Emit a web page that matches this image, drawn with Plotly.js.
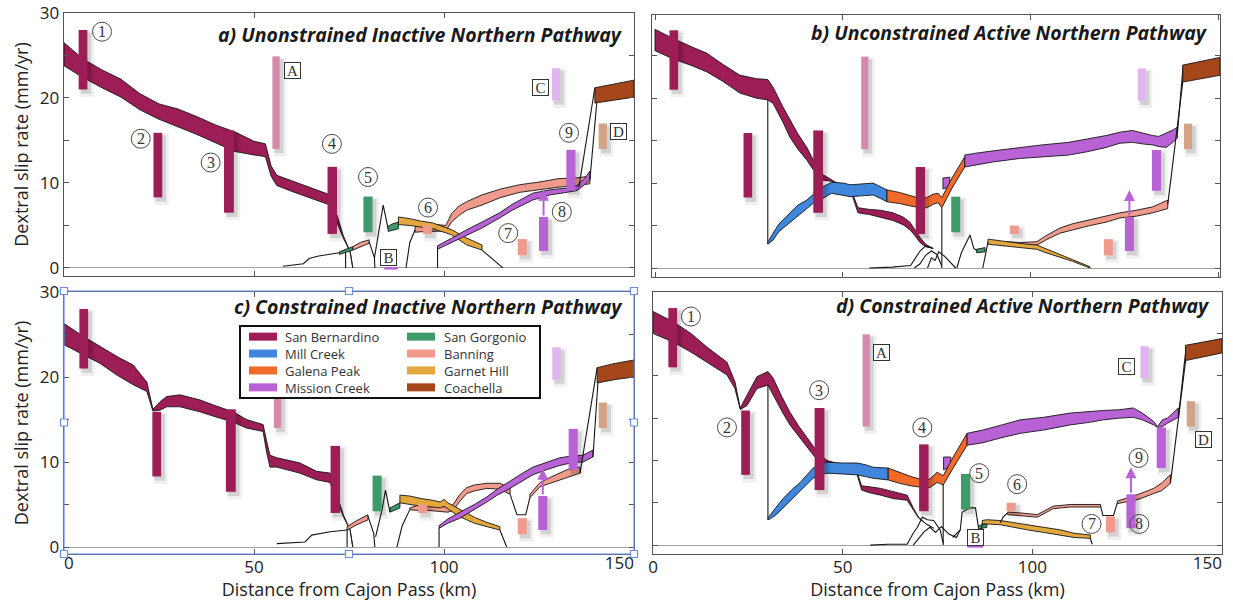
<!DOCTYPE html>
<html><head><meta charset="utf-8">
<script src="https://cdn.plot.ly/plotly-3.0.1.min.js"></script>
<style>html,body{margin:0;padding:0;background:#fff}#chart{width:1233px;height:601px}</style>
</head><body><div id="chart"></div>
<script>
// ---------------- fault colours & legend names ----------------
const faultKeys  = ['SB','MC','GP','MSC','SG','BAN','GH','CO'];
const faultNames = ['San Bernardino','Mill Creek','Galena Peak','Mission Creek','San Gorgonio','Banning','Garnet Hill','Coachella'];
const faultColors = {SB:'#9d1d56', MC:'#3f86dc', GP:'#f06a2a', MSC:'#b862d6', SG:'#3f9a69', BAN:'#f09a8b', GH:'#e2a83e', CO:'#a5461b', A:'#d68aab', C:'#e1b6ee', D:'#d4a284'};

// ---------------- geologic observations (bars) ----------------
const obsLabels = ['1','2','3','A','4','5','6','7','8','9','C','D'];
const obsFault  = ['SB','SB','SB','A','SB','SG','BAN','BAN','MSC','MSC','C','D'];
const obsXUnc   = [5.0, 24.7, 43.4, 55.8, 70.6, 80.0, 95.6, 120.6, 126.2, 133.4, 129.5, 141.8];
const obsXCon   = [5.2, 24.4, 43.9, 56.2, 71.4, 82.4, 94.4, 120.6, 126.0, 134.0, 129.6, 141.8];
const obsLo     = [21.0, 8.3, 6.5, 14.0, 4.0, 4.2, 4.0, 1.5, 2.0, 9.1, 19.7, 14.0];
const obsHi     = [28.0, 15.9, 16.2, 24.9, 11.9, 8.4, 5.0, 3.4, 6.0, 13.9, 23.5, 17.0];
const obsW      = [2.3, 2.3, 2.6, 1.9, 2.5, 2.4, 2.4, 2.4, 2.4, 2.4, 2.2, 2.2];
const obs8ArrowTo = 9.2;

// ---------------- labels (circled numbers / boxed letters) ----------------
const circNums = ['1','2','3','4','5','6','7','8','9'];
const circAx = [10.0, 20.2, 38.6, 70.5, 80.0, 95.8, 116.9, 131.0, 132.9];
const circAy = [27.8, 15.2, 12.4, 14.6, 10.7, 7.1, 4.1, 6.6, 15.9];
const circDx = [10.0, 19.5, 43.8, 71.0, 86.0, 96.0, 115.6, 128.2, 128.0];
const circDy = [27.0, 13.9, 18.3, 13.9, 8.5, 7.2, 2.5, 2.5, 10.3];
const letters = ['A','B','C','D'];
const letAx = [60.0, 85.3, 125.3, 145.8];
const letAy = [23.2, 1.2, 21.2, 16.0];
const letDx = [60.2, 85.0, 124.8, 145.1];
const letDy = [22.7, 0.9, 21.1, 12.5];

// ---------------- panel a: Unconstrained Inactive ----------------
const a_SB_x  = [0, 5, 10, 15, 20, 25, 30, 35, 40, 45, 50, 53, 54.5, 56, 60, 65, 70, 72, 73.5, 75.3, 76];
const a_SB_hi = [26.5, 24.6, 23.3, 22.2, 20.5, 19.3, 18.7, 17.8, 16.8, 16.0, 14.9, 14.6, 12.0, 10.9, 10.2, 9.4, 8.6, 6.0, 3.8, 1.9, 0.0];
const a_SB_lo = [23.8, 22.4, 21.2, 20.1, 18.6, 17.5, 16.6, 15.7, 14.7, 13.7, 13.3, 13.1, 10.8, 9.7, 9.0, 8.2, 7.4, 5.1, 3.5, 1.9, 0.0];
const a_L1_x = [57.6, 63, 64.5, 67, 70, 74.1], a_L1_y = [0.2, 0.5, 1.1, 1.4, 1.6, 1.9];
const a_V1_x = [74.1, 74.1], a_V1_y = [1.9, 0];
const a_SG0_x = [72.5, 74.1, 76], a_SG0_lo = [1.6, 1.8, 2.1], a_SG0_hi = [1.9, 2.2, 2.5];
const a_BAN0_x = [76, 78, 80.3], a_BAN0_lo = [2.1, 2.5, 2.9], a_BAN0_hi = [2.5, 3.0, 3.3];
const a_L2_x = [80.3, 81.7, 81.8], a_L2_y = [3.1, 1.2, 0];
const a_SGl_x = [81.7, 84, 85.3], a_SGl_y = [1.2, 7.4, 4.6];
const a_SG_x = [85.3, 86.5, 88], a_SG_lo = [4.3, 4.4, 4.6], a_SG_hi = [4.9, 5.2, 5.4];
const a_BANs_x = [90, 91, 92.4], a_BANs_y = [0, 3.0, 4.5];
const a_BAN_x  = [92.4, 95, 98, 100.5, 102, 104, 106, 110, 115, 120, 125, 130, 135, 138.4];
const a_BAN_hi = [4.9, 5.1, 5.1, 5.0, 6.4, 7.3, 7.8, 8.6, 9.3, 9.8, 10.1, 10.5, 10.6, 10.8];
const a_BAN_lo = [4.2, 4.3, 4.3, 4.4, 5.4, 6.2, 6.8, 7.4, 8.3, 8.9, 9.2, 9.5, 9.7, 9.9];
const a_GH_x  = [88, 91, 94, 97, 100, 102, 106, 110];
const a_GH_hi = [6.0, 5.8, 5.5, 5.3, 4.8, 4.5, 3.5, 2.7];
const a_GH_lo = [5.1, 5.0, 4.8, 4.6, 4.2, 3.9, 2.7, 2.1];
const a_GHt_x = [110, 113, 115.5], a_GHt_y = [2.1, 1.0, 0];
const a_MSs_x = [98.3, 98.3], a_MSs_y = [0, 2.3];
const a_MSC_x  = [98.3, 102, 106, 110, 114.7, 118, 123.4, 128, 132.4, 135, 137, 138.4];
const a_MSC_hi = [2.6, 3.5, 4.5, 5.4, 6.5, 7.5, 8.8, 9.2, 9.4, 9.7, 10.5, 11.4];
const a_MSC_lo = [2.2, 3.0, 3.9, 4.7, 5.9, 6.8, 8.0, 8.6, 8.9, 9.1, 9.8, 10.4];
const a_S1_x = [135.5, 139.7], a_S1_y = [9.5, 21.2];
const a_S2_x = [138.4, 140.2], a_S2_y = [10.4, 19.4];
const a_CO_x = [139.7, 145, 150], a_CO_hi = [21.2, 21.7, 22.1], a_CO_lo = [19.4, 19.8, 20.1];
const a_Bu_x = [84.3, 87.8], a_Bu_y = [-0.05, -0.05];

// ---------------- panel b: Unconstrained Active ----------------
const b_SB_x  = [0, 5, 10, 13.8, 18, 22.6, 27, 30, 31.4, 34, 35.9, 38, 40.4, 42, 43.9, 47, 50, 52.5, 54, 57, 60, 63.3, 66, 67.8, 69, 70.5, 72, 74];
const b_SB_hi = [28.1, 27.0, 26.0, 25.3, 24.0, 22.7, 22.3, 22.2, 21.3, 19.0, 17.4, 15.8, 14.2, 12.8, 11.2, 10.4, 9.6, 8.8, 7.1, 6.9, 6.8, 6.5, 6.0, 5.4, 4.6, 3.6, 2.8, 2.3];
const b_SB_lo = [25.6, 24.6, 23.8, 23.1, 22.0, 20.6, 20.0, 19.8, 19.4, 17.2, 15.4, 14.0, 12.7, 11.6, 10.4, 10.2, 9.2, 8.5, 6.5, 6.3, 6.0, 5.6, 5.1, 4.5, 3.9, 3.0, 2.5, 2.3];
const b_V1_x = [30, 30], b_V1_y = [19.8, 2.9];
const b_MC_x  = [30, 31.4, 33, 35.9, 38, 40.4, 42, 43.9, 47, 50, 52, 55, 58, 60, 61.7];
const b_MC_hi = [3.0, 4.1, 5.2, 6.5, 7.4, 8.0, 8.7, 9.4, 10.1, 10.0, 9.8, 9.9, 10.0, 9.6, 9.2];
const b_MC_lo = [2.8, 3.3, 4.3, 5.4, 6.2, 7.0, 7.6, 8.0, 8.8, 8.6, 8.4, 8.5, 8.6, 8.2, 7.8];
const b_MS0_x = [76.6, 78.4], b_MS0_hi = [10.6, 10.7], b_MS0_lo = [9.3, 9.6];
const b_GP_x  = [61.7, 65, 68, 70.5, 72.3, 74, 75.3, 76.3, 79, 82.4];
const b_GP_hi = [9.2, 8.9, 8.5, 8.2, 8.3, 8.7, 8.8, 8.3, 10.6, 13.1];
const b_GP_lo = [7.8, 7.6, 7.3, 7.1, 7.1, 7.5, 7.7, 7.1, 9.4, 11.9];
const b_MSC_x  = [82.4, 85, 90, 97, 103, 110, 115, 120, 123.7, 127, 130, 132.4, 134, 136, 138, 139];
const b_MSC_hi = [13.3, 13.5, 13.8, 14.2, 14.5, 14.8, 15.2, 15.6, 16.0, 16.2, 15.9, 15.6, 15.5, 15.9, 16.3, 16.6];
const b_MSC_lo = [11.9, 12.1, 12.5, 12.9, 13.1, 13.3, 13.7, 14.2, 14.7, 14.8, 14.6, 14.5, 14.3, 14.2, 14.9, 15.4];
const b_CO_x = [140.4, 145, 150.3], b_CO_hi = [23.9, 24.3, 24.8], b_CO_lo = [21.9, 22.3, 22.7];
const b_S1_x = [136.4, 140.4], b_S1_y = [7.5, 21.9];
const b_S2_x = [139, 140.5], b_S2_y = [16.0, 23.9];
const b_GHs_x = [87.2, 88.6], b_GHs_y = [0, 3.1];
const b_GH_x  = [88.6, 91, 93.6, 97, 101.6, 104, 107.7, 111, 115.7];
const b_GH_hi = [3.4, 3.3, 3.1, 2.9, 2.7, 2.2, 1.6, 1.0, 0.15];
const b_GH_lo = [2.8, 2.7, 2.6, 2.4, 2.2, 1.8, 1.3, 0.8, 0.0];
const b_BAN_x  = [93.6, 97, 101.6, 104, 107.7, 111, 115.7, 120, 123.7, 128, 132.4, 136.4];
const b_BAN_hi = [3.1, 3.0, 3.1, 3.8, 4.7, 5.2, 5.7, 6.1, 6.5, 6.8, 7.2, 8.0];
const b_BAN_lo = [2.8, 2.7, 2.7, 3.3, 4.1, 4.5, 5.0, 5.4, 5.9, 6.1, 6.5, 7.0];
const b_T1_x = [57, 63, 68, 69, 70.5, 72, 74], b_T1_y = [0, 0.1, 0.3, 1.0, 2.0, 2.6, 2.3];
const b_T2_x = [69, 70.5, 72, 73.5, 75, 76.3], b_T2_y = [0, 0.5, 1.5, 2.0, 1.6, 0.2];
const b_T3_x = [72.5, 73.5, 74.5, 75.5, 77, 78.5, 80], b_T3_y = [0, 1.2, 0.9, 1.9, 1.4, 0.7, 0];
const b_V2_x = [76.3, 76.3], b_V2_y = [7.1, 0];
const b_SGl_x = [80.3, 81.5, 83.8, 84.8, 85.5], b_SGl_y = [0, 1.8, 3.9, 2.3, 2.1];
const b_SG_x = [85.5, 87.8], b_SG_hi = [2.2, 2.4], b_SG_lo = [1.8, 1.9];

// ---------------- panel c: Constrained Inactive ----------------
const c_SB_x  = [0, 5, 9.5, 14, 18.2, 21.8, 23.4, 25.3, 27, 30.5, 35.8, 40, 44.5, 48, 52.4, 53.3, 54.2, 56, 62, 66.5, 70, 72, 73.5, 75.3, 76];
const c_SB_hi = [26.3, 24.8, 23.6, 22.4, 21.4, 19.4, 16.2, 17.1, 17.7, 17.9, 17.3, 16.6, 15.9, 15.0, 14.4, 12.5, 10.8, 10.5, 9.9, 8.9, 8.7, 6.0, 3.8, 2.0, 0];
const c_SB_lo = [23.8, 22.6, 21.6, 20.2, 19.1, 18.3, 16.0, 16.1, 16.5, 16.5, 15.9, 15.3, 14.7, 14.0, 13.6, 11.2, 9.4, 9.4, 8.7, 7.9, 7.6, 5.3, 3.6, 2.0, 0];
const c_L1_x = [56, 63.4, 65.2, 67.4, 70, 74.5], c_L1_y = [0.4, 0.6, 1.4, 1.6, 1.8, 2.0];
const c_V1_x = [74.5, 74.5], c_V1_y = [2.0, 0];
const c_BAN0_x = [74.5, 77, 80], c_BAN0_lo = [2.0, 2.6, 3.2], c_BAN0_hi = [2.4, 3.1, 3.8];
const c_L2_x = [80, 81.5, 81.8], c_L2_y = [3.6, 1.6, 0];
const c_SGl_x = [82, 83.7, 84.6, 85.8], c_SGl_y = [1.2, 4.4, 6.7, 4.1];
const c_SG_x = [85.8, 88.4], c_SG_lo = [4.1, 4.6], c_SG_hi = [4.6, 5.2];
const c_GH_x  = [88.4, 91, 94, 97, 99, 100, 101, 102.4, 104, 106, 108, 111.3, 114.7];
const c_GH_hi = [6.1, 6.0, 5.7, 5.5, 5.3, 5.6, 5.2, 4.9, 4.5, 4.0, 3.5, 2.9, 2.4];
const c_GH_lo = [5.2, 5.0, 4.8, 4.7, 4.6, 4.8, 4.5, 4.1, 3.6, 3.2, 2.8, 2.4, 2.0];
const c_GHt_x = [114.7, 116.5], c_GHt_y = [2.0, 0];
const c_BANs_x = [87.6, 89, 91], c_BANs_y = [0, 2.5, 4.4];
const c_BAN_x  = [91, 93, 96, 99, 101, 102.4, 104.2, 106, 108, 111.3, 114.7, 117.4];
const c_BAN_hi = [4.6, 4.9, 4.9, 4.8, 4.7, 5.0, 6.2, 7.0, 7.3, 7.5, 7.5, 6.9];
const c_BAN_lo = [4.4, 4.3, 4.3, 4.2, 4.1, 4.3, 5.4, 6.3, 6.6, 6.9, 6.8, 6.2];
const c_BANd_x = [117.4, 119.2, 121.5, 122.6], c_BANd_y = [6.2, 3.8, 3.8, 5.8];
const c_BAN2_x  = [122.6, 125.3, 128, 132.4, 135.8];
const c_BAN2_hi = [6.2, 7.6, 8.2, 9.1, 9.4];
const c_BAN2_lo = [5.8, 7.1, 7.5, 8.2, 8.7];
const c_MSs_x = [98.7, 98.7], c_MSs_y = [0, 2.2];
const c_MSC_x  = [98.7, 101, 104.2, 108, 111.3, 114, 116.6, 120, 123.4, 127, 130.5, 133.5, 136.6, 139.2];
const c_MSC_hi = [2.5, 3.3, 4.1, 5.0, 5.9, 6.8, 7.5, 8.5, 9.4, 10.0, 10.5, 10.7, 10.8, 11.4];
const c_MSC_lo = [2.2, 2.8, 3.4, 4.4, 5.3, 6.1, 6.7, 7.6, 8.5, 9.1, 9.6, 9.9, 10.0, 10.6];
const c_S1_x = [135.8, 140.3], c_S1_y = [8.7, 21.1];
const c_S2_x = [139.2, 140.5], c_S2_y = [10.6, 19.3];
const c_CO_x = [140.3, 145, 150], c_CO_hi = [21.1, 21.6, 22.0], c_CO_lo = [19.3, 19.7, 20.0];

// ---------------- panel d: Constrained Active ----------------
const d_SB_x  = [0, 5.3, 10, 14.2, 19.5, 21.6, 23, 24.8, 27.4, 30.3, 31.7, 34, 36.1, 38.5, 40.6, 42.5, 44, 45.9, 50, 53.5, 55, 57, 60, 63.3, 67, 68.6, 70, 72, 74];
const d_SB_hi = [27.6, 26.4, 25.0, 23.4, 21.6, 19.3, 16.2, 17.7, 19.9, 20.5, 19.7, 17.5, 15.7, 14.0, 12.6, 11.5, 10.6, 10.0, 9.5, 9.0, 7.0, 6.9, 6.7, 6.3, 5.9, 4.4, 3.3, 2.5, 2.0];
const d_SB_lo = [25.0, 24.0, 22.8, 21.6, 20.1, 18.5, 16.0, 16.5, 18.5, 18.9, 17.7, 15.8, 14.2, 12.8, 11.5, 10.5, 9.8, 9.6, 9.2, 8.8, 6.5, 6.2, 5.9, 5.5, 5.3, 4.2, 3.2, 2.5, 2.0];
const d_V1_x = [30.3, 30.3], d_V1_y = [18.9, 3.0];
const d_MC_x  = [30.3, 30.9, 32.5, 34.3, 36.5, 38.8, 40.5, 42.2, 44, 45.9, 50, 53.8, 56, 58, 62];
const d_MC_hi = [3.2, 3.6, 4.5, 5.5, 6.5, 7.4, 8.3, 9.1, 9.6, 9.8, 9.7, 9.7, 9.5, 9.2, 9.1];
const d_MC_lo = [3.0, 3.1, 3.6, 4.4, 5.4, 6.5, 7.2, 7.9, 8.3, 8.5, 8.4, 8.3, 8.1, 7.9, 7.7];
const d_MS0_x = [76.6, 78.5], d_MS0_hi = [10.4, 10.4], d_MS0_lo = [8.9, 9.3];
const d_GP_x  = [62, 65, 68, 71.2, 73, 74.9, 75.5, 76.5, 79, 82.8];
const d_GP_hi = [9.1, 8.6, 8.1, 7.7, 7.8, 8.6, 8.4, 8.2, 10.3, 13.2];
const d_GP_lo = [7.7, 7.3, 7.0, 6.8, 6.8, 7.4, 7.3, 7.1, 9.0, 11.8];
const d_MSC_x  = [82.8, 87, 92, 96.8, 103, 110, 115, 118.7, 123, 126.6, 129, 132, 133, 134.3, 135.6, 138.5];
const d_MSC_hi = [13.2, 13.6, 14.2, 14.8, 15.1, 15.6, 15.8, 15.9, 16.0, 16.2, 15.6, 14.6, 14.0, 14.8, 15.0, 16.2];
const d_MSC_lo = [11.8, 12.1, 12.7, 13.2, 13.6, 14.2, 14.5, 14.8, 15.0, 15.1, 14.8, 14.2, 13.9, 14.0, 14.4, 15.1];
const d_CO_x = [140.4, 145, 150], d_CO_hi = [23.6, 24.0, 24.4], d_CO_lo = [21.8, 22.2, 22.7];
const d_S1_x = [136.4, 140.4], d_S1_y = [7.3, 21.8];
const d_S2_x = [138.5, 140.6], d_S2_y = [15.1, 23.6];
const d_BANs_x = [91.5, 92.3, 93.5], d_BANs_y = [2.6, 3.3, 3.8];
const d_BAN_x  = [93.5, 97, 101.3, 103, 105.5, 110, 115, 118];
const d_BAN_hi = [3.9, 3.8, 3.6, 4.0, 4.6, 4.8, 4.8, 4.8];
const d_BAN_lo = [3.6, 3.5, 3.3, 3.7, 4.3, 4.5, 4.5, 4.5];
const d_BANd_x = [118, 118.6, 121.4, 122.4], d_BANd_y = [4.6, 3.5, 3.5, 5.0];
const d_BAN2_x  = [122.4, 125, 128, 132, 134, 136.4];
const d_BAN2_hi = [5.2, 5.6, 6.0, 6.7, 7.3, 8.3];
const d_BAN2_lo = [4.9, 5.1, 5.4, 6.1, 6.4, 7.3];
const d_GHs_x = [86.2, 86.8], d_GHs_y = [0, 2.6];
const d_GH_x  = [86.8, 88, 91.6, 95, 98.7, 103, 107.4, 111, 115.3];
const d_GH_hi = [2.9, 3.0, 2.9, 2.7, 2.4, 2.1, 1.8, 1.4, 1.2];
const d_GH_lo = [2.5, 2.5, 2.4, 2.1, 1.8, 1.5, 1.2, 0.9, 0.8];
const d_GHt_x = [115.3, 115.8], d_GHt_y = [0.8, 0.1];
const d_SGl_x = [79, 81, 81.5, 83.6, 85, 85.8], d_SGl_y = [0.9, 1.8, 3.9, 4.4, 4.4, 2.1];
const d_SG_x = [85.8, 88], d_SG_lo = [1.9, 2.1], d_SG_hi = [2.3, 2.5];
const d_T1_x = [57.3, 62, 67, 68.6, 69.7, 71, 72.3, 74, 75.7, 76.5], d_T1_y = [0.0, 0.1, 0.1, 1.4, 2.1, 3.3, 3.0, 2.9, 1.8, 0.2];
const d_T2_x = [68.6, 70, 71.5, 73, 74.5, 76, 78, 80, 81], d_T2_y = [0, 0.8, 1.6, 2.1, 1.5, 2.2, 1.3, 0.9, 1.8];
const d_V2_x = [76.5, 76.5], d_V2_y = [7.1, 0];
const d_Bu_x = [82.8, 87], d_Bu_y = [-0.15, -0.15];

// ---------------- panel titles & axis text ----------------
const panelTitles = ['a) Unonstrained Inactive Northern Pathway','b) Unconstrained Active Northern Pathway','c) Constrained Inactive Northern Pathway','d) Constrained Active Northern Pathway'];
const xTicks = [0, 50, 100, 150];
const yTicks = [0, 5, 10, 15, 20, 25, 30];
const yTickText = ['0', '', '10', '', '20', '', '30'];

// =================== build ===================
const W = 1233, H = 601;
const traces = [], shapes = [], annos = [];
const sfx = n => (n === 1 ? '' : String(n));

function band(p, x, lo, hi, key){
  const xs = x.concat(x.slice().reverse(), [x[0]]);
  const ys = lo.concat(hi.slice().reverse(), [lo[0]]);
  traces.push({type:'scatter', mode:'lines', x:xs, y:ys, xaxis:'x'+sfx(p), yaxis:'y'+sfx(p),
    fill:'toself', fillcolor:faultColors[key], line:{color:'#151515', width:0.9}, hoverinfo:'skip', showlegend:false});
}
function line(p, x, y, color, w){
  traces.push({type:'scatter', mode:'lines', x:x, y:y, xaxis:'x'+sfx(p), yaxis:'y'+sfx(p),
    line:{color:color||'#151515', width:w||1.1}, hoverinfo:'skip', showlegend:false});
}
function rect(p, x0, x1, y0, y1, color){
  traces.push({type:'scatter', mode:'lines', x:[x0,x1,x1,x0,x0], y:[y0,y0,y1,y1,y0], xaxis:'x'+sfx(p), yaxis:'y'+sfx(p),
    fill:'toself', fillcolor:color, line:{width:0, color:color}, hoverinfo:'skip', showlegend:false});
}
function observations(p, xs){
  for (let i = 0; i < xs.length; i++){
    const h = obsW[i]/2, xc = xs[i];
    rect(p, xc-h+0.3, xc+h+1.7, obsLo[i]-0.9, obsHi[i]-0.1, 'rgba(0,0,0,0.06)');
    rect(p, xc-h+0.6, xc+h+1.0, obsLo[i]-0.5, obsHi[i]-0.3, 'rgba(0,0,0,0.12)');
  }
  for (let i = 0; i < xs.length; i++){
    const h = obsW[i]/2, xc = xs[i];
    rect(p, xc-h, xc+h, obsLo[i], obsHi[i], faultColors[obsFault[i]]);
  }
  const i8 = obsLabels.indexOf('8');
  annos.push({xref:'x'+sfx(p), yref:'y'+sfx(p), axref:'x'+sfx(p), ayref:'y'+sfx(p),
    x:xs[i8], y:obs8ArrowTo, ax:xs[i8], ay:obsHi[i8], text:'', showarrow:true,
    arrowhead:2, arrowsize:1.1, arrowwidth:2, arrowcolor:faultColors.MSC});
}
function circles(p, xs, ys){
  for (let i = 0; i < circNums.length; i++){
    shapes.push({type:'circle', xref:'x'+sfx(p), yref:'y'+sfx(p), xsizemode:'pixel', ysizemode:'pixel',
      xanchor:xs[i], yanchor:ys[i], x0:-9.5, x1:9.5, y0:-9.5, y1:9.5, line:{color:'#4a4a4a', width:1}, layer:'above'});
    annos.push({xref:'x'+sfx(p), yref:'y'+sfx(p), x:xs[i], y:ys[i], text:circNums[i], showarrow:false,
      font:{family:'Liberation Serif, serif', size:16, color:'#333'}});
  }
}
function boxes(p, xs, ys){
  for (let i = 0; i < letters.length; i++){
    annos.push({xref:'x'+sfx(p), yref:'y'+sfx(p), x:xs[i], y:ys[i], text:letters[i], showarrow:false,
      font:{family:'Liberation Serif, serif', size:15, color:'#333'}, bordercolor:'#333', borderwidth:1,
      borderpad:0, bgcolor:'#fff', width:15, height:15});
  }
}

// ---- panel a ----
band(1, a_SB_x, a_SB_lo, a_SB_hi, 'SB');
line(1, a_L1_x, a_L1_y); line(1, a_V1_x, a_V1_y);
band(1, a_SG0_x, a_SG0_lo, a_SG0_hi, 'SG');
band(1, a_BAN0_x, a_BAN0_lo, a_BAN0_hi, 'BAN');
line(1, a_L2_x, a_L2_y); line(1, a_SGl_x, a_SGl_y);
band(1, a_SG_x, a_SG_lo, a_SG_hi, 'SG');
line(1, a_BANs_x, a_BANs_y);
band(1, a_BAN_x, a_BAN_lo, a_BAN_hi, 'BAN');
band(1, a_GH_x, a_GH_lo, a_GH_hi, 'GH');
line(1, a_GHt_x, a_GHt_y);
line(1, a_MSs_x, a_MSs_y);
band(1, a_MSC_x, a_MSC_lo, a_MSC_hi, 'MSC');
line(1, a_S1_x, a_S1_y); line(1, a_S2_x, a_S2_y);
band(1, a_CO_x, a_CO_lo, a_CO_hi, 'CO');
line(1, a_Bu_x, a_Bu_y, faultColors.MSC, 2.5);
observations(1, obsXUnc);
circles(1, circAx, circAy); boxes(1, letAx, letAy);

// ---- panel b ----
band(2, b_SB_x, b_SB_lo, b_SB_hi, 'SB');
line(2, b_V1_x, b_V1_y);
band(2, b_MC_x, b_MC_lo, b_MC_hi, 'MC');
line(2, b_T1_x, b_T1_y); line(2, b_T2_x, b_T2_y); line(2, b_T3_x, b_T3_y); line(2, b_V2_x, b_V2_y);
band(2, b_MS0_x, b_MS0_lo, b_MS0_hi, 'MSC');
band(2, b_GP_x, b_GP_lo, b_GP_hi, 'GP');
band(2, b_MSC_x, b_MSC_lo, b_MSC_hi, 'MSC');
line(2, b_SGl_x, b_SGl_y);
band(2, b_SG_x, b_SG_lo, b_SG_hi, 'SG');
line(2, b_GHs_x, b_GHs_y);
band(2, b_BAN_x, b_BAN_lo, b_BAN_hi, 'BAN');
band(2, b_GH_x, b_GH_lo, b_GH_hi, 'GH');
line(2, b_S1_x, b_S1_y); line(2, b_S2_x, b_S2_y);
band(2, b_CO_x, b_CO_lo, b_CO_hi, 'CO');
observations(2, obsXUnc);

// ---- panel c ----
band(3, c_SB_x, c_SB_lo, c_SB_hi, 'SB');
line(3, c_L1_x, c_L1_y); line(3, c_V1_x, c_V1_y);
band(3, c_BAN0_x, c_BAN0_lo, c_BAN0_hi, 'BAN');
line(3, c_L2_x, c_L2_y); line(3, c_SGl_x, c_SGl_y);
band(3, c_SG_x, c_SG_lo, c_SG_hi, 'SG');
line(3, c_BANs_x, c_BANs_y);
band(3, c_BAN_x, c_BAN_lo, c_BAN_hi, 'BAN');
band(3, c_GH_x, c_GH_lo, c_GH_hi, 'GH');
line(3, c_GHt_x, c_GHt_y);
line(3, c_MSs_x, c_MSs_y);
band(3, c_MSC_x, c_MSC_lo, c_MSC_hi, 'MSC');
line(3, c_BANd_x, c_BANd_y);
band(3, c_BAN2_x, c_BAN2_lo, c_BAN2_hi, 'BAN');
line(3, c_S1_x, c_S1_y); line(3, c_S2_x, c_S2_y);
band(3, c_CO_x, c_CO_lo, c_CO_hi, 'CO');
observations(3, obsXCon);

// ---- panel d ----
band(4, d_SB_x, d_SB_lo, d_SB_hi, 'SB');
line(4, d_V1_x, d_V1_y);
band(4, d_MC_x, d_MC_lo, d_MC_hi, 'MC');
line(4, d_T1_x, d_T1_y); line(4, d_T2_x, d_T2_y); line(4, d_V2_x, d_V2_y);
band(4, d_MS0_x, d_MS0_lo, d_MS0_hi, 'MSC');
band(4, d_GP_x, d_GP_lo, d_GP_hi, 'GP');
band(4, d_MSC_x, d_MSC_lo, d_MSC_hi, 'MSC');
line(4, d_SGl_x, d_SGl_y);
band(4, d_SG_x, d_SG_lo, d_SG_hi, 'SG');
line(4, d_GHs_x, d_GHs_y);
band(4, d_GH_x, d_GH_lo, d_GH_hi, 'GH');
line(4, d_GHt_x, d_GHt_y);
line(4, d_BANs_x, d_BANs_y);
band(4, d_BAN_x, d_BAN_lo, d_BAN_hi, 'BAN');
line(4, d_BANd_x, d_BANd_y);
band(4, d_BAN2_x, d_BAN2_lo, d_BAN2_hi, 'BAN');
line(4, d_S1_x, d_S1_y); line(4, d_S2_x, d_S2_y);
band(4, d_CO_x, d_CO_lo, d_CO_hi, 'CO');
line(4, d_Bu_x, d_Bu_y, faultColors.MSC, 2.5);
observations(4, obsXCon);
circles(4, circDx, circDy); boxes(4, letDx, letDy);

// empty traces so the edge-label overlay axes exist
[['x5','y3'], ['x6','y3'], ['x7','y4']].forEach(([xa, ya]) => traces.push({type:'scatter', mode:'lines', x:[null], y:[null], xaxis:xa, yaxis:ya, hoverinfo:'skip', showlegend:false}));

// ---- panel titles ----
const titlePos = [[0.984, 0.92], [0.982, 0.935], [0.984, 0.943], [0.982, 0.947]];
panelTitles.forEach((t, i) => {
  annos.push({xref:'x'+sfx(i+1)+' domain', yref:'y'+sfx(i+1)+' domain', x:titlePos[i][0], y:titlePos[i][1],
    xanchor:'right', yanchor:'middle', text:'<b><i>'+t+'</i></b>', showarrow:false,
    font:{family:'Open Sans, sans-serif', size:19.5, color:'#1a1a1a'}});
});

// ---- manual legend (panel c), two columns ----
const px = v => v / W, py = v => 1 - v / H;
const legBox = [240, 326, 540, 398];
shapes.push({type:'rect', xref:'paper', yref:'paper', x0:px(legBox[0]), x1:px(legBox[2]), y0:py(legBox[3]), y1:py(legBox[1]),
  fillcolor:'#fff', line:{color:'#111', width:2}, layer:'above'});
const legFont = 13, legLine = legFont * 1.3;
const legMid = (legBox[1] + legBox[3]) / 2;
const legSwX = [249, 407], legTxX = [283, 442];
[0, 1].forEach(col => {
  const keys = faultKeys.slice(col*4, col*4+4);
  keys.forEach((k, r) => {
    const yc = legMid + (r - 1.5) * legLine;
    shapes.push({type:'rect', xref:'paper', yref:'paper', x0:px(legSwX[col]), x1:px(legSwX[col]+28),
      y0:py(yc+4), y1:py(yc-4), fillcolor:faultColors[k], line:{width:0}, layer:'above'});
  });
  annos.push({xref:'paper', yref:'paper', x:px(legTxX[col]), y:py(legMid), xanchor:'left', yanchor:'middle', align:'left',
    text:faultNames.slice(col*4, col*4+4).join('<br>'), showarrow:false,
    font:{family:'Open Sans, sans-serif', size:legFont, color:'#333'}});
});

// ---- selection box around panel c ----
const selBox = [64, 291, 634, 554];
shapes.push({type:'rect', xref:'paper', yref:'paper', x0:px(selBox[0]), x1:px(selBox[2]), y0:py(selBox[3]), y1:py(selBox[1]),
  line:{color:'#6a8ee6', width:1.2}, layer:'above'});
const hx = [selBox[0], (selBox[0]+selBox[2])/2, selBox[2]], hy = [selBox[1], (selBox[1]+selBox[3])/2, selBox[3]];
hx.forEach((xx, i) => hy.forEach((yy, j) => {
  if (i === 1 && j === 1) return;
  shapes.push({type:'rect', xref:'paper', yref:'paper', xsizemode:'pixel', ysizemode:'pixel',
    xanchor:px(xx), yanchor:py(yy), x0:-3.5, x1:3.5, y0:-3.5, y1:3.5,
    fillcolor:'#fff', line:{color:'#6a8ee6', width:1.2}, layer:'above'});
}));

// ---- axes ----
const tickFont = {family:'Open Sans, sans-serif', size:17, color:'#222'};
const titleFont = {family:'Open Sans, sans-serif', size:18, color:'#222'};
function xAxis(dom, range, anchor, shown){
  const a = {domain:dom, range:range, anchor:anchor, tickmode:'array', tickvals:xTicks,
    ticktext: xTicks.map(v => (shown.indexOf(v) >= 0 ? String(v) : '')), ticks:'inside', ticklen:5, tickcolor:'#555',
    showline:true, linecolor:'#555', linewidth:1.3, mirror:'ticks', showgrid:false, zeroline:false,
    tickfont:tickFont, ticklabelstandoff:-3, fixedrange:true};
  if (shown.length) a.title = {text:'Distance from Cajon Pass (km)', font:titleFont, standoff:9};
  return a;
}
function edgeAxis(over, anchor, range, val, pos){
  return {overlaying:over, anchor:anchor, side:'bottom', range:range, tickmode:'array', tickvals:[val], ticktext:[String(val)],
    ticklabelposition:pos, ticks:'', showline:false, showgrid:false, zeroline:false, tickfont:tickFont,
    ticklabelstandoff:-3, fixedrange:true};
}
function yAxis(dom, range, anchor, labels){
  const a = {domain:dom, range:range, anchor:anchor, tickmode:'array', tickvals:yTicks,
    ticktext: labels ? yTickText : yTicks.map(() => ''), ticks:'inside', ticklen:5, tickcolor:'#555',
    showline:true, linecolor:'#555', linewidth:1.3, mirror:'ticks', showgrid:false,
    zeroline:true, zerolinecolor:'#a0a0a0', zerolinewidth:1, tickfont:tickFont, fixedrange:true};
  if (labels) a.title = {text:'Dextral slip rate (mm/yr)', font:titleFont, standoff:6};
  return a;
}
const layout = {
  width:W, height:H, margin:{l:0, r:0, t:0, b:0}, paper_bgcolor:'#fff', plot_bgcolor:'rgba(0,0,0,0)',
  showlegend:false, font:{family:'Open Sans, sans-serif'},
  xaxis:  xAxis([64/W, 634/W], [0, 150], 'y', []),
  yaxis:  yAxis([1-276/H, 1-13/H], [-0.95, 30], 'x', true),
  xaxis2: xAxis([652/W, 1220/W], [-0.8, 150.3], 'y2', []),
  yaxis2: yAxis([1-277/H, 1-15/H], [-1.06, 29.8], 'x2', false),
  xaxis3: xAxis([64/W, 634/W], [0, 150], 'y3', [50, 100]),
  yaxis3: yAxis([1-554/H, 1-292/H], [-0.82, 30], 'x3', true),
  xaxis4: xAxis([653/W, 1222/W], [0, 150], 'y4', [0, 50, 100]),
  yaxis4: yAxis([1-554/H, 1-292/H], [-1.05, 29.9], 'x4', false),
  xaxis5: edgeAxis('x3', 'y3', [0, 150], 0, 'outside right'),
  xaxis6: edgeAxis('x3', 'y3', [0, 150], 150, 'outside left'),
  xaxis7: edgeAxis('x4', 'y4', [0, 150], 150, 'outside left'),
  shapes:shapes, annotations:annos
};
Plotly.newPlot('chart', traces, layout, {staticPlot:true, displayModeBar:false});
</script></body></html>
